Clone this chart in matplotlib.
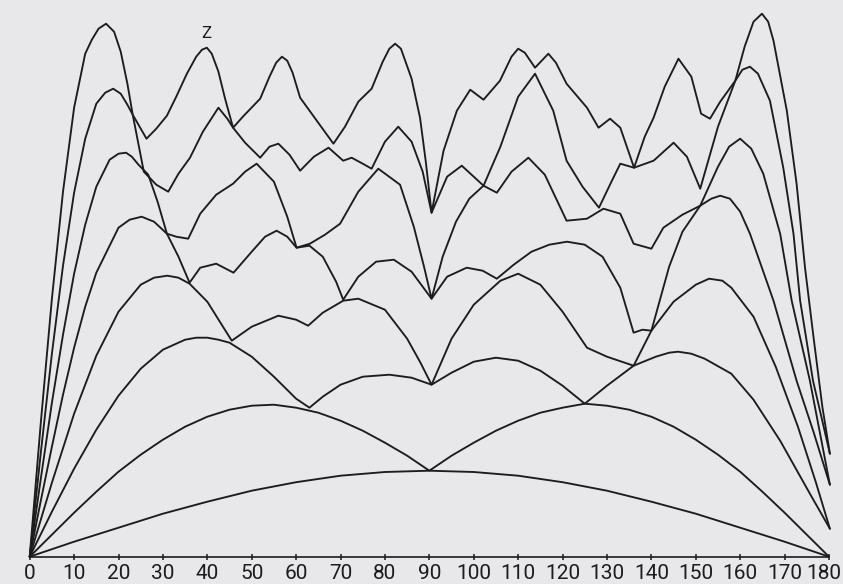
import matplotlib
matplotlib.use("Agg")
import matplotlib.pyplot as plt
from matplotlib.transforms import ScaledTranslation

# x positions (degrees) and curve heights (arbitrary units)
c1_x = [0, 10, 20, 30, 40, 50, 60, 70, 80, 90, 100, 110, 120, 130, 140, 150, 160, 170, 180]
c1_y = [0, 15, 29, 43, 55, 66, 74.5, 81, 84.7, 86, 84.7, 81, 74.5, 66, 55, 43, 29, 15, 0]

c2_x = [0, 5, 10, 15, 20, 25, 30, 35, 40, 45, 50, 55, 60, 65, 70, 75, 80, 85, 90,
        95, 100, 105, 110, 115, 120, 125, 130, 135, 140, 145, 150, 155, 160, 165, 170, 175, 180]
c2_y = [0, 22, 44, 65, 85, 102, 117, 130, 140, 147, 151, 152, 149, 144, 136, 126, 114, 101, 86,
        101, 114, 126, 136, 144, 149, 153, 151, 147, 140, 130, 117, 102, 85, 65, 44, 22, 0]

c3_x = [0, 5, 10, 15, 20, 25, 30, 35, 37.5, 40, 42.5, 45, 50, 55, 60, 63, 66, 70, 75, 81, 86, 90.5,
        95, 100, 105, 110, 115, 120, 125, 130, 136, 141, 144, 146, 149, 152, 158, 163, 169, 175.7, 180.2]
c3_y = [0, 45, 88, 127, 161, 188, 207, 217, 219, 219, 217, 214, 200, 180, 158, 149, 160, 172, 180, 182, 179, 172,
        184, 195, 199, 196, 186, 171, 153, 171, 191, 200, 204, 205, 203, 198, 183, 157, 116, 63, 28]

c4_x = [0, 5, 10, 15, 20, 25, 28, 31, 33.5, 36, 40, 45.5, 50, 56, 60, 62.7, 66, 70.6, 74, 80, 85, 88, 90.5,
        95, 100, 106, 110, 115, 120, 125.5, 130, 136, 140, 145, 150, 153, 156, 158, 163, 168, 173, 177, 180.2]
c4_y = [0, 74, 143, 201, 245, 272, 279, 281, 279, 273, 255, 216, 230, 241, 237, 231, 244, 256, 258, 247, 218, 194, 172,
        218, 252, 276, 283, 272, 245, 209, 200, 191, 226, 255, 272, 278, 276, 269, 240, 190, 130, 75, 28]

c5_x = [0, 2.5, 5, 7.5, 10, 12.5, 15, 20, 22.5, 25.2, 28, 30.9, 33.5, 36, 38.4, 42, 45.9, 50, 53, 55.6, 58,
        60.1, 63, 66, 69, 70.6, 74, 78, 82, 86, 88.5, 90.5, 94, 98.4, 102, 105.2, 109, 113, 117, 121,
        125, 129, 133, 136, 138, 140, 144, 147, 151, 153.5, 155.5, 157.7, 160, 162.2, 167.5, 172.7, 176.5, 180.2]
c5_y = [0, 56, 110, 162, 209, 250, 284, 329, 337, 340, 335, 323, 300, 274, 289, 293, 284, 305, 320, 326, 320,
        309, 311, 300, 275, 257, 280, 295, 297, 285, 270, 258, 280, 289, 286, 278, 292, 305, 312, 315,
        312, 300, 269, 224, 227, 226, 290, 325, 351, 358, 361, 358, 345, 323, 256, 176, 125, 72]

c6_x = [0, 2.5, 5, 7.5, 10, 12.5, 15, 18, 20, 21.7, 23, 24.5, 26.7, 28.8, 30.9, 33, 35.7, 38.4, 42, 45.8, 48.5,
        51.1, 55, 58, 60.1, 63.1, 66.5, 69.9, 74, 78.5, 83.4, 86.5, 88.8, 90.5, 93, 96, 99, 102.2,
        105.2, 108.5, 112.3, 116, 120.9, 125.5, 129.2, 133, 136, 140, 142.7, 147, 151, 155, 157.5, 160,
        162.5, 165.2, 169, 171.6, 175.7, 180.2]
c6_y = [0, 78, 154, 222, 283, 332, 370, 397, 403, 404, 400, 392, 382, 355, 323, 320, 318, 343, 362, 373, 385,
        393, 375, 340, 309, 313, 322, 333, 365, 388, 372, 330, 290, 258, 300, 335, 358, 371,
        364, 385, 399, 382, 336, 338, 348, 343, 313, 308, 329, 342, 351, 390, 410, 418,
        408, 383, 323, 256, 176, 72]

c7_x = [0, 2.5, 5, 7.5, 10, 12.5, 15, 17, 18.8, 20.5, 22, 23.2, 25.7, 28.5, 31.2, 33.5, 36.1, 39, 42.5, 44.5, 45.8,
        48.5, 51.9, 54, 56, 58.5, 60.9, 64, 67.3, 70.6, 72.5, 75, 77, 80, 83, 86, 88.5, 90.5,
        94, 97.3, 102.2, 106, 110, 113.8, 117.9, 120.9, 124.5, 128.2, 131, 133, 136.1, 140.5, 145,
        148, 151, 155, 158.9, 160.5, 162.2, 164, 166.7, 169.7, 172, 173.5, 176.4, 180.2]
c7_y = [0, 104, 203, 291, 364, 418, 453, 464, 468, 463, 452, 442, 385, 372, 365, 383, 399, 425, 449, 438, 429,
        414, 399, 410, 413, 402, 386, 400, 409, 396, 399, 393, 388, 415, 430, 415, 385, 344,
        380, 391, 371, 410, 460, 483, 446, 396, 370, 349, 375, 393, 389, 396, 414,
        400, 368, 430, 476, 487, 490, 483, 456, 389, 323, 256, 176, 103]

c8_x = [0, 2.5, 5, 7.5, 10, 12.5, 14, 15.5, 17.2, 19, 20.5, 22, 23.2, 26.3, 28.5, 30.9, 33, 35.4, 37.5, 38.8,
        39.9, 41, 42.5, 44, 45.8, 48, 51.9, 54, 55.5, 56.8, 58, 59.2, 60.9, 64, 68.4, 71, 74, 77, 79.5, 81,
        82.3, 83.6, 86, 87.9, 89.2, 90.5,
        93.2, 96.2, 99.2, 102.2, 105.9, 108.5, 110, 111.5, 113.8, 116.8, 118.5, 120.9, 125.5, 128.1, 130.7, 133,
        136.1, 138.5, 140.5, 143, 146.1, 149, 151.2, 153.2, 155.5, 158.9, 161, 163, 164.9, 166.3, 167.5,
        170.5, 172.7, 174.6, 176.5, 178.5, 180.2]
c8_y = [0, 134, 258, 365, 449, 503, 517, 528, 533, 525, 505, 473, 442, 418, 428, 441, 460, 483, 500, 507,
        509, 503, 485, 458, 429, 440, 458, 480, 494, 500, 496, 484, 459, 440, 413, 430, 455, 468, 495, 508,
        513, 508, 478, 439, 395, 344,
        406, 446, 467, 457, 476, 500, 508, 504, 489, 503, 494, 473, 449, 429, 438, 429,
        389, 420, 439, 470, 498, 480, 443, 438, 455, 476, 510, 535, 543, 535, 516,
        446, 373, 289, 220, 150, 103]

tick_values = list(range(0, 181, 10))
tick_labels = [str(v) for v in tick_values]

curves = [(c1_x, c1_y), (c2_x, c2_y), (c3_x, c3_y), (c4_x, c4_y),
          (c5_x, c5_y), (c6_x, c6_y), (c7_x, c7_y), (c8_x, c8_y)]

bg = "#e8e8ea"
ink = "#1c1c1c"
fig = plt.figure(figsize=(8.43, 5.84), dpi=100, facecolor=bg)
ax = fig.add_axes([29.7 / 843, (584 - 556.7) / 584, (829 - 29.7) / 843, 556.7 / 584])
ax.set_facecolor(bg)

for xs, ys in curves:
    ax.plot(xs, ys, color=ink, lw=1.35, solid_joinstyle="round", solid_capstyle="round", clip_on=False)

ax.set_xlim(0, 180)
ax.set_ylim(0, 556.7)
for s in ("top", "right", "left"):
    ax.spines[s].set_visible(False)
ax.spines["bottom"].set_color(ink)
ax.spines["bottom"].set_linewidth(1.2)
ax.set_yticks([])
ax.set_xticks(tick_values)
ax.set_xticklabels(tick_labels, family=["Roboto", "DejaVu Sans"], fontsize=15, color=ink)
ax.tick_params(axis="x", direction="inout", length=5, width=1.1, color=ink, pad=3)
last = ax.get_xticklabels()[-1]
last.set_transform(last.get_transform() + ScaledTranslation(-5 / 100, 0, fig.dpi_scale_trans))

ax.text(39.7, 523, "Z", ha="center", va="center", fontsize=12,
        family=["Roboto", "DejaVu Sans"], color=ink)

fig.savefig("out.png", dpi=100, facecolor=bg)
